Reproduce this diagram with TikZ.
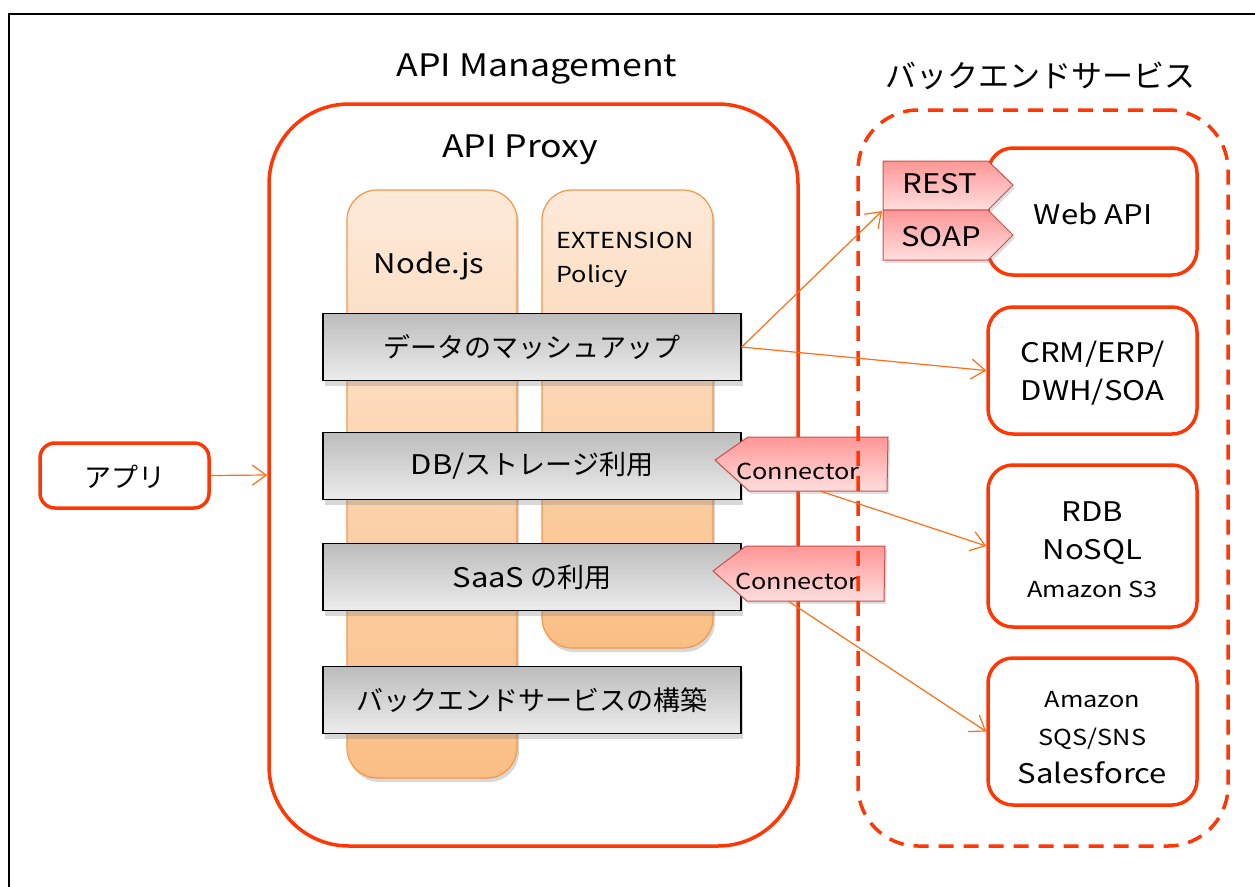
\documentclass[tikz,border=0pt]{standalone}
\usepackage{fontspec}
\setmainfont{Noto Sans CJK JP}
\newfontfamily\lt{Noto Sans CJK JP}[FakeStretch=1.15]
\usetikzlibrary{arrows.meta,shadows}
\definecolor{redA}{RGB}{255,55,5}
\definecolor{arrC}{RGB}{255,110,20}
\definecolor{colTop}{RGB}{253,233,217}
\definecolor{colBot}{RGB}{250,190,132}
\definecolor{colLine}{RGB}{245,150,70}
\definecolor{grayTop}{RGB}{188,188,188}
\definecolor{grayBot}{RGB}{236,236,236}
\definecolor{tagTop}{RGB}{255,150,150}
\definecolor{tagBot}{RGB}{255,222,222}
\definecolor{tagLine}{RGB}{200,80,75}
\tikzset{
  fbig/.style={font=\fontsize{31}{37}\selectfont},
  fmid/.style={font=\fontsize{27}{38}\selectfont},
  fsmall/.style={font=\fontsize{22}{30}\selectfont},
  fbigL/.style={font=\fontsize{31}{37}\selectfont\lt},
  fmidL/.style={font=\fontsize{27}{38}\selectfont\lt},
  fsmallL/.style={font=\fontsize{22}{30}\selectfont\lt},
  redbox/.style={draw=redA, line width=3.5pt, fill=white, inner sep=0pt},
  column/.style={draw=colLine, line width=1.2pt, top color=colTop, bottom color=colBot,
     rounded corners=30pt, inner sep=0pt, minimum width=170pt,
     drop shadow={opacity=0.3, shadow xshift=2pt, shadow yshift=-4pt}},
  graybox/.style={draw=black, line width=1.3pt, top color=grayTop, bottom color=grayBot,
     minimum width=418pt, minimum height=67pt, inner sep=0pt, fmid,
     drop shadow={opacity=0.3, shadow xshift=2pt, shadow yshift=-5pt}},
  tagshape/.style={draw=tagLine, line width=1pt, top color=tagTop, bottom color=tagBot,
     drop shadow={opacity=0.25, shadow xshift=2pt, shadow yshift=-3pt}},
  link/.style={draw=arrC, line width=1.2pt, -{Straight Barb[length=14pt,width=20pt,line width=1.2pt]}},
}
\begin{document}
\begin{tikzpicture}[x=1pt,y=-1pt]
\useasboundingbox (0,0) rectangle (1255,886);
\fill[white] (0,0) rectangle (1255,886);
% outer frame
\draw[black, line width=1.5pt] (9,900) -- (9,14) -- (1270,14);

% titles
\node[fbigL] (t1) at (537,69) {API Management};
\node[fbig] (t2) at (1040,76) {バックエンドサービス};

% API management box
\node[redbox, rounded corners=80pt, minimum width=529pt, minimum height=742pt] (apim) at (533.5,475) {};
\node[fbigL] (t3) at (520,150) {API Proxy};

% columns
\node[column, minimum height=588pt] (colA) at (432,484) {};
\node[column, minimum width=171pt, minimum height=458pt] (colB) at (627.5,419) {};
\node[fmidL] (nodejs) at (429,266) {Node.js};
\node[fsmallL, anchor=west] (ext) at (553,240) {EXTENSION};
\node[fsmallL, anchor=west] (pol) at (553,276) {Policy};

% gray boxes
\node[graybox] (mash) at (532,347) {データのマッシュアップ};
\node[graybox] (db) at (532,466) {{\lt DB/}ストレージ利用};
\node[graybox] (saas) at (532,577) {{\lt SaaS} の利用};
\node[graybox] (build) at (532,700) {バックエンドサービスの構築};

% connector tags
\path[tagshape] (748,437) -- (888,437) -- (887,491) -- (749,491) -- (715,460) -- cycle;
\node[fsmallL] (con1) at (798,471) {Connector};
\path[tagshape] (746,546) -- (885,546) -- (884,601) -- (747,601) -- (713,571) -- cycle;
\node[fsmallL] (con2) at (797,581) {Connector};
\coordinate (c1b) at (820,491);
\coordinate (c2b) at (788,601);

% app
\node[redbox, rounded corners=15pt, minimum width=169pt, minimum height=65pt, fmid] (app) at (124.5,475.5) {};
\node[fmid] (appt) at (124.5,477) {アプリ};

% backend dashed box
\node[draw=redA, line width=3.5pt, dash pattern=on 15pt off 10pt, rounded corners=60pt,
      minimum width=370pt, minimum height=736pt, inner sep=0pt] (back) at (1043,478) {};

% backend services
\node[redbox, rounded corners=25pt, minimum width=209pt, minimum height=127pt] (web) at (1092.5,211.5) {};
\node[fmidL] (webt) at (1093,214) {Web API};
\node[redbox, rounded corners=25pt, minimum width=209pt, minimum height=127pt] (crm) at (1092.5,370.5) {};
\node[fmidL, align=center] (crmt) at (1092.5,373) {CRM/ERP/\\DWH/SOA};
\node[redbox, rounded corners=25pt, minimum width=209pt, minimum height=162pt] (rdb) at (1092.5,546) {};
\node[fmidL, align=center] (rdbt) at (1092.5,550) {RDB\\NoSQL\\{\fontsize{22}{30}\selectfont\lt Amazon S3}};
\node[redbox, rounded corners=25pt, minimum width=209pt, minimum height=147pt] (amz) at (1092.5,731.5) {};
\node[fmidL, align=center] (amzt) at (1092.5,738) {{\fontsize{22}{30}\selectfont\lt Amazon}\\{\fontsize{22}{30}\selectfont\lt SQS/SNS}\\Salesforce};

% REST / SOAP tags
\path[tagshape] (883,161) -- (988,161) -- (1013,185) -- (988,210) -- (883,210) -- cycle;
\path[tagshape] (883,210) -- (988,210) -- (1013,235) -- (988,260) -- (883,260) -- cycle;
\node[fmidL] (rest) at (940,184) {REST};
\node[fmidL] (soap) at (941,237) {SOAP};
\coordinate (rs) at (882,211);

% links
\draw[link] (app.east) -- (apim.west);
\draw[link] (mash.east) -- (rs);
\draw[link] (mash.east) -- (crm.west);
\draw[link] (c1b) -- (rdb.west);
\draw[link] (c2b) -- (amz.west);
\end{tikzpicture}
\end{document}
